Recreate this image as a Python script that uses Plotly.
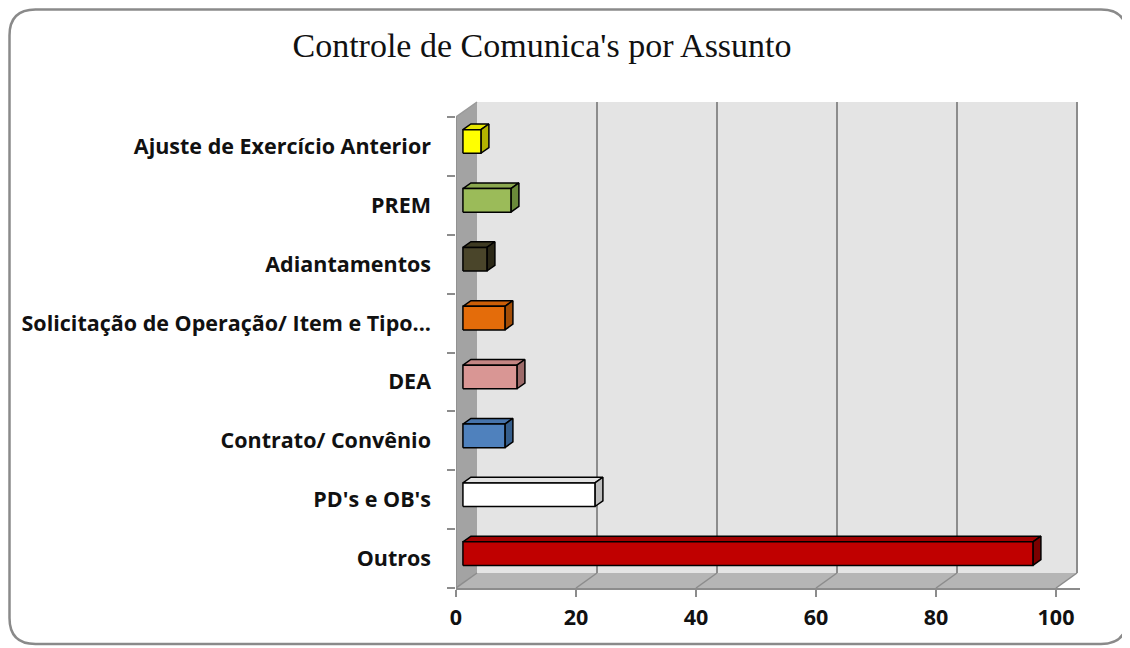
import plotly.graph_objects as go

# ---------------- data ----------------
categories = [
    "Outros",
    "PD's e OB's",
    "Contrato/ Convênio",
    "DEA",
    "Solicitação de Operação/ Item e Tipo...",
    "Adiantamentos",
    "PREM",
    "Ajuste de Exercício Anterior",
]
values = [95, 22, 7, 9, 7, 4, 8, 3]
x_ticks = [0, 20, 40, 60, 80, 100]
title_text = "Controle de Comunica's por Assunto"

front_colors = ["#C00000", "#FFFFFF", "#4F81BD", "#D99694", "#E46C0A", "#4A452A", "#9BBB59", "#FFFF00"]
top_colors = ["#A00000", "#E2E2E2", "#4673AA", "#C48583", "#CC5F08", "#3E3A22", "#8BA84F", "#E6E600"]
side_colors = ["#7A0000", "#BDBDBD", "#355E8C", "#9C6A69", "#A34D06", "#2B2817", "#6B8A3A", "#B3B300"]

# ---------------- layout geometry (style) ----------------
W, H = 1130, 648
L, R, T, B = 448, 58, 92, 68
PW, PH = W - L - R, H - T - B
X_PER_PX = 1 / 6.0
n = len(categories)
y_lo = -0.5
y_unit_px = 58.875
y_hi = y_lo + PH / y_unit_px
x_hi = PW * X_PER_PX
DX = 21 * X_PER_PX        # depth offset of back wall (x units)
DY = 15 / y_unit_px       # depth offset of back wall (category units)
F0, F1 = 0.33, 0.71       # bar depth fractions
HALF = 0.2                # half bar height (category units)
XMAX = x_ticks[-1]
LABEL_FONT = dict(family="Open Sans", size=21.5, color="#111111", weight="bold")

fig = go.Figure()
shapes = []

# walls
wall_line = dict(width=0)
shapes.append(dict(type="path", xref="x", yref="y", layer="below",
                   path=f"M {DX},{y_lo+DY} L {XMAX+DX},{y_lo+DY} L {XMAX+DX},{n-0.5+DY} L {DX},{n-0.5+DY} Z",
                   fillcolor="#E4E4E4", line=wall_line))
shapes.append(dict(type="path", xref="x", yref="y", layer="below",
                   path=f"M 0,{y_lo} L {DX},{y_lo+DY} L {DX},{n-0.5+DY} L 0,{n-0.5} Z",
                   fillcolor="#A3A3A3", line=wall_line))
shapes.append(dict(type="path", xref="x", yref="y", layer="below",
                   path=f"M 0,{y_lo} L {XMAX},{y_lo} L {XMAX+DX},{y_lo+DY} L {DX},{y_lo+DY} Z",
                   fillcolor="#B5B5B5", line=wall_line))
# gridlines
for v in x_ticks:
    if v > 0:
        shapes.append(dict(type="line", xref="x", yref="y", layer="below",
                           x0=v + DX, x1=v + DX, y0=y_lo + DY, y1=n - 0.5 + DY,
                           line=dict(color="#8C8C8C", width=2)))
    shapes.append(dict(type="line", xref="x", yref="y", layer="below",
                       x0=v, x1=v + DX, y0=y_lo, y1=y_lo + DY,
                       line=dict(color="#8C8C8C", width=1.5)))
shapes.append(dict(type="line", xref="x", yref="y", layer="below",
                   x0=0, x1=DX, y0=n - 0.5, y1=n - 0.5 + DY,
                   line=dict(color="#9A9A9A", width=1.5)))
# y axis line on the front plane
shapes.append(dict(type="line", xref="x", yref="y", x0=0, x1=0, y0=y_lo, y1=n - 0.5,
                   line=dict(color="#8C8C8C", width=1.5), layer="below"))

# bars (3D boxes)
for i, (v, fc, tc, sc) in enumerate(zip(values, front_colors, top_colors, side_colors)):
    x0f, x0b = F0 * DX, F1 * DX
    yf, yb = i + F0 * DY, i + F1 * DY
    # top face
    fig.add_trace(go.Scatter(
        x=[x0f, v + x0f, v + x0b, x0b, x0f],
        y=[yf + HALF, yf + HALF, yb + HALF, yb + HALF, yf + HALF],
        mode="lines", fill="toself", fillcolor=tc,
        line=dict(color="black", width=1.5), hoverinfo="skip", showlegend=False))
    # side face
    fig.add_trace(go.Scatter(
        x=[v + x0f, v + x0b, v + x0b, v + x0f, v + x0f],
        y=[yf - HALF, yb - HALF, yb + HALF, yf + HALF, yf - HALF],
        mode="lines", fill="toself", fillcolor=sc,
        line=dict(color="black", width=1.5), hoverinfo="skip", showlegend=False))
    # front face
    fig.add_trace(go.Scatter(
        x=[x0f, v + x0f, v + x0f, x0f, x0f],
        y=[yf - HALF, yf - HALF, yf + HALF, yf + HALF, yf - HALF],
        mode="lines", fill="toself", fillcolor=fc,
        line=dict(color="black", width=1.5),
        name=categories[i], hovertemplate=f"{categories[i]}: {v}<extra></extra>",
        showlegend=False))

# frame (paper coords from pixels)
def px2paper_x(px):
    return (px - L) / PW

def px2paper_y(py):
    return (H - B - py) / PH

fl, fr, ft, fb, rad = 1.5, 1119, 1.5, 636, 26
x_l, x_r = px2paper_x(fl), px2paper_x(fr)
y_t, y_b = px2paper_y(ft), px2paper_y(fb)
rx, ry = rad / PW, rad / PH
frame_path = (f"M {x_l+rx},{y_t} L {x_r-rx},{y_t} Q {x_r},{y_t} {x_r},{y_t-ry} "
              f"L {x_r},{y_b+ry} Q {x_r},{y_b} {x_r-rx},{y_b} L {x_l+rx},{y_b} "
              f"Q {x_l},{y_b} {x_l},{y_b+ry} L {x_l},{y_t-ry} Q {x_l},{y_t} {x_l+rx},{y_t} Z")
shapes.append(dict(type="path", xref="paper", yref="paper", path=frame_path,
                   line=dict(color="#8A8A8A", width=2.5), layer="above"))

fig.update_layout(
    width=W, height=H,
    margin=dict(l=L, r=R, t=T, b=B),
    paper_bgcolor="white", plot_bgcolor="white",
    shapes=shapes,
    title=dict(text=title_text, x=534 / W, xanchor="center", xref="container",
               y=1 - 37 / H, yanchor="middle", yref="container",
               font=dict(family="Liberation Serif", size=34, color="#111111")),
    xaxis=dict(range=[0, x_hi], tickvals=x_ticks, ticktext=[str(t) for t in x_ticks],
               showgrid=False, zeroline=False, showline=True, linecolor="#8C8C8C", linewidth=1.5,
               ticks="outside", ticklen=7, tickcolor="#8C8C8C", tickwidth=1.5,
               ticklabelstandoff=2,
               tickfont=LABEL_FONT,
               fixedrange=True),
    yaxis=dict(range=[y_lo, y_hi], tickvals=list(range(n)), ticktext=categories,
               showgrid=False, zeroline=False, showline=False,
               ticks="", ticklabelstandoff=24,
               minor=dict(tickvals=[k - 0.5 for k in range(n + 1)], ticks="outside", ticklen=8,
                          tickcolor="#8C8C8C", tickwidth=1.5, showgrid=False),
               tickfont=LABEL_FONT,
               fixedrange=True),
)

fig.write_html("out.html")
